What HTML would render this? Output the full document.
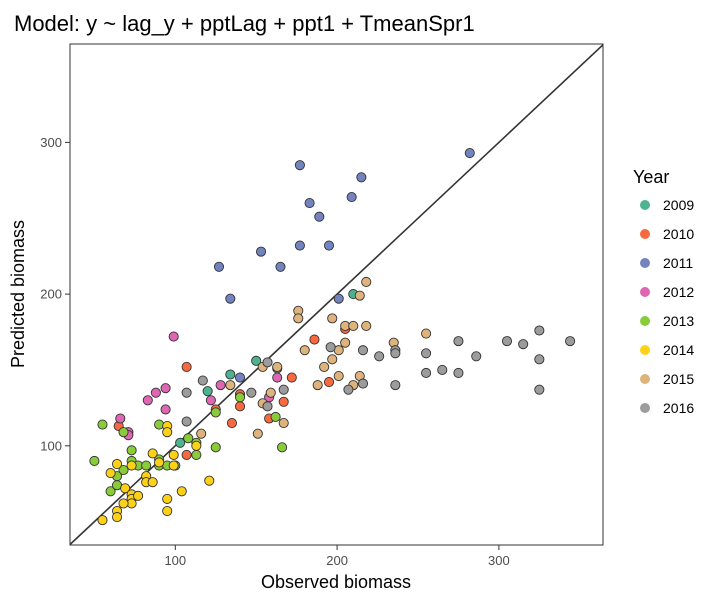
<!DOCTYPE html>
<html><head><meta charset="utf-8"><style>
body{margin:0;background:#fff;font-family:"Liberation Sans",sans-serif}
svg text{font-family:"Liberation Sans",sans-serif}
</style></head><body>
<svg id="c" width="720" height="600" xmlns="http://www.w3.org/2000/svg">
<text x="14" y="31" font-size="22" fill="#000">Model: y ~ lag_y + pptLag + ppt1 + TmeanSpr1</text>
<defs><clipPath id="clip"><rect x="70" y="44" width="533" height="501"/></clipPath></defs>
<g id="marks" clip-path="url(#clip)"></g>
<rect x="70" y="44" width="533" height="501" fill="none" stroke="#333" stroke-width="1"/>
<g id="axes"></g>
<text x="336" y="588" font-size="18" text-anchor="middle">Observed biomass</text>
<text transform="translate(24,294) rotate(-90)" font-size="18" text-anchor="middle">Predicted biomass</text>
<text x="633" y="183" font-size="18">Year</text>
<g id="legend"></g>
</svg>
<script>
const years=["2009","2010","2011","2012","2013","2014","2015","2016"];
const colors=["#4cb391","#f8693f","#7283bf","#df66b3","#8acb3a","#fdd116","#dfb37c","#9c9c9c"];
const xTicks=[100,200,300];
const yTicks=[100,200,300];
const d2009=[[134,147],[120,136],[150,156],[103,102],[163,151],[210,200]];
const d2010=[[107,152],[65,113],[125,124],[140,126],[140,134],[135,115],[172,145],[167,129],[158,118],[107,94],[186,170],[205,177],[195,142]];
const d2011=[[177,285],[215,277],[183,260],[189,251],[209,264],[177,232],[195,232],[153,228],[127,218],[165,218],[134,197],[201,197],[282,293],[140,145]];
const d2012=[[99,172],[94,138],[88,135],[83,130],[94,124],[66,118],[71,109],[71,107],[122,130],[128,140],[158,132],[163,145]];
const d2013=[[55,114],[68,109],[90,114],[140,132],[125,122],[162,119],[108,105],[113,102],[73,97],[125,99],[166,99],[113,94],[50,90],[73,90],[68,84],[64,80],[60,70],[64,74],[77,87],[82,87],[90,91],[90,87],[95,87],[100,87]];
const d2014=[[95,113],[95,109],[113,100],[86,95],[99,94],[64,88],[60,82],[73,87],[69,72],[73,68],[73,65],[73,62],[68,62],[77,67],[82,80],[82,76],[86,76],[99,87],[90,89],[95,65],[95,57],[104,70],[121,77],[64,57],[64,53],[55,51]];
const d2015=[[218,208],[214,199],[176,189],[176,184],[197,184],[205,179],[210,179],[218,179],[205,168],[201,163],[180,163],[197,157],[192,152],[235,168],[255,174],[154,152],[163,152],[159,135],[154,128],[167,115],[151,108],[188,140],[201,146],[214,146],[210,140],[134,140],[116,108]];
const d2016=[[157,155],[196,165],[216,163],[226,159],[236,163],[236,161],[236,140],[255,161],[255,148],[265,150],[275,169],[275,148],[286,159],[305,169],[315,167],[325,176],[325,157],[325,137],[344,169],[147,135],[167,137],[157,126],[207,137],[216,141],[117,143],[107,135],[107,116]];
const series=[d2009,d2010,d2011,d2012,d2013,d2014,d2015,d2016];
const xs=v=>13.5+1.618*v, ys=v=>597.5-1.517*v;
const NS="http://www.w3.org/2000/svg";
const marks=document.getElementById('marks'),axes=document.getElementById('axes'),legend=document.getElementById('legend');
function mk(t,a,p){const e=document.createElementNS(NS,t);for(const k in a)e.setAttribute(k,a[k]);p.appendChild(e);return e;}
const ln=mk('line',{x1:xs(0),y1:ys(0),x2:xs(400),y2:ys(400),stroke:'#333','stroke-width':1.6},marks);


series.forEach((s,i)=>{s.forEach(p=>{
 const c=mk('circle',{cx:xs(p[0]),cy:ys(p[1]),r:4.6,fill:colors[i],stroke:'#333','stroke-width':0.9},marks);
 
 
});});
xTicks.forEach(t=>{
 const l=mk('line',{x1:xs(t),x2:xs(t),y1:545,y2:550,stroke:'#333'},axes);
 
 
 const tx=mk('text',{x:xs(t),y:565,'font-size':13,fill:'#4d4d4d','text-anchor':'middle'},axes);tx.textContent=t;
 
 
});
yTicks.forEach(t=>{
 const l=mk('line',{x1:65,x2:70,y1:ys(t),y2:ys(t),stroke:'#333'},axes);
 
 
 const tx=mk('text',{x:62,y:ys(t)+4.5,'font-size':13,fill:'#4d4d4d','text-anchor':'end'},axes);tx.textContent=t;
 
 
});
years.forEach((y,i)=>{
 const g=mk('g',{},legend);
 
 
 const cy=205+i*29;
 mk('circle',{cx:645,cy:cy,r:5,fill:colors[i]},g);
 const t=mk('text',{x:663,y:cy+5,'font-size':14},g);t.textContent=y;
});
</script>
</body></html>
